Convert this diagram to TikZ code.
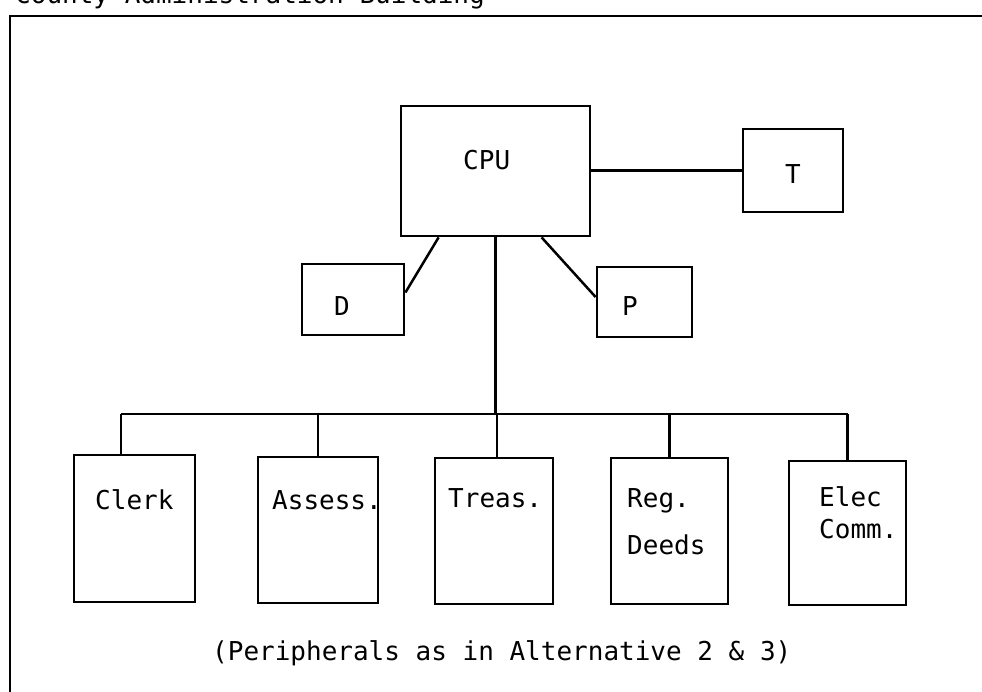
\documentclass[tikz,border=0pt]{standalone}
\usepackage{fontspec}
\newfontfamily\monofam{DejaVu Sans Mono}
\begin{document}
\begin{tikzpicture}[x=1pt,y=-1pt,
  box/.style={draw,line width=2.8pt,inner sep=0pt,minimum width=#1},
  lbl/.style={anchor=base west,inner sep=0pt,font=\monofam\fontsize{26}{26}\selectfont},
  wire/.style={line width=2.5pt}]
\clip (0,0) rectangle (982,692);
% frame and title
\draw[line width=2.2pt] (10,700) -- (10,16) -- (1000,16);
\node[lbl] (title) at (15,4) {County Administration Building};
% top boxes
\node[box=189pt,minimum height=130pt] (CPU) at (495.5,171) {};
\node[box=100pt,minimum height=83pt] (T) at (793,170.5) {};
\node[box=102pt,minimum height=71pt] (D) at (353,299.5) {};
\node[box=95pt,minimum height=70pt] (P) at (644.5,302) {};
\node[lbl] (tCPU) at (463,170) {CPU};
\node[lbl] (tT) at (785,183.5) {T};
\node[lbl] (tD) at (334,315.5) {D};
\node[lbl] (tP) at (622,315.5) {P};
% bottom boxes
\node[box=121pt,minimum height=147pt] (Clerk) at (134.5,528.5) {};
\node[box=120pt,minimum height=146pt] (Assess) at (318,530) {};
\node[box=118pt,minimum height=146pt] (Treas) at (494,531) {};
\node[box=117pt,minimum height=146pt] (Reg) at (669.5,531) {};
\node[box=117pt,minimum height=144pt] (Elec) at (847.5,533) {};
\node[lbl] (tClerk) at (95,509) {Clerk};
\node[lbl] (tAssess) at (272,509) {Assess.};
\node[lbl] (tTreas) at (448,507) {Treas.};
\node[lbl] (tReg) at (627,507) {Reg.};
\node[lbl] (tDeeds) at (627,554) {Deeds};
\node[lbl] (tElec) at (819,506) {Elec};
\node[lbl] (tComm) at (819,538) {Comm.};
\node[lbl] (caption) at (212,660) {(Peripherals as in Alternative 2 \& 3)};
% connectors
\draw[wire] (T.west) -- (T.west -| CPU.east);
\draw[wire] ([xshift=39pt]CPU.south west) -- ([yshift=7pt]D.east);
\draw[wire] ([xshift=142pt]CPU.south west) -- ([yshift=5pt]P.west);
\coordinate (bus) at (0,414);
\path ([xshift=-13.5pt]Clerk.north) coordinate (clk);
\draw[wire] (CPU.south) -- (CPU.south |- bus);
\draw[wire] (clk |- bus) -- (Elec.north |- bus);
\draw[wire] (clk) -- (clk |- bus);
\draw[wire] (Assess.north) -- (Assess.north |- bus);
\draw[wire] ([xshift=3pt]Treas.north) -- ([xshift=3pt]Treas.north |- bus);
\draw[wire] (Reg.north) -- (Reg.north |- bus);
\draw[wire] (Elec.north) -- (Elec.north |- bus);
\end{tikzpicture}
\end{document}
